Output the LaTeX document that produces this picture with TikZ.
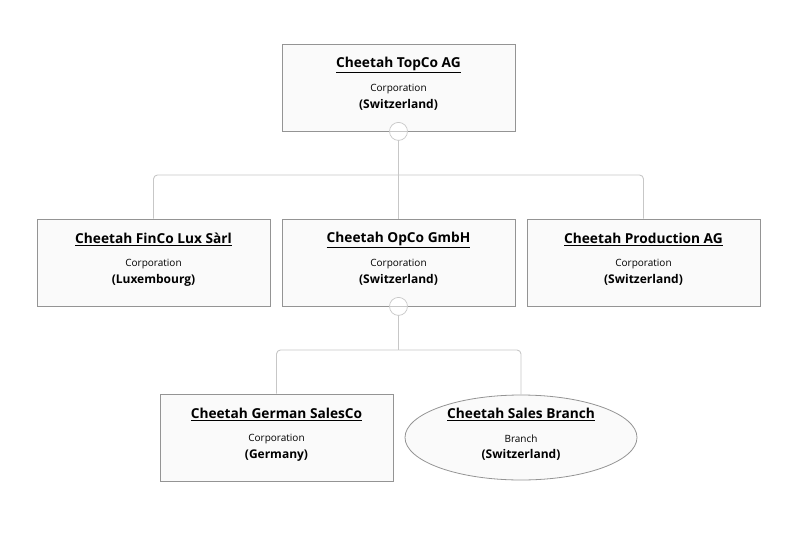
\documentclass[tikz,border=0pt]{standalone}
\usepackage{fontspec}
\setmainfont{Open Sans}
\usetikzlibrary{shapes.geometric}
\begin{document}
\begin{tikzpicture}[x=1pt, y=-1pt,
  entity/.style={draw=black!42, fill=black!2, line width=0.8pt,
    minimum width=233pt, minimum height=87pt, inner sep=0pt},
  branch/.style={ellipse, draw=black!42, fill=black!2, line width=0.8pt,
    minimum width=232pt, minimum height=85pt, inner sep=0pt},
  etitle/.style={inner sep=0pt, font=\fontsize{13.7}{15}\selectfont\bfseries},
  etype/.style={inner sep=0pt, font=\fontsize{10}{12}\selectfont},
  ecountry/.style={inner sep=0pt, font=\fontsize{12}{14}\selectfont\bfseries},
  link/.style={draw=black!22, line width=0.9pt, rounded corners=4pt},
  toggle/.style={circle, draw=black!22, fill=white, line width=0.7pt,
    minimum size=18pt, inner sep=0pt}]
\useasboundingbox (0,0) rectangle (811,546);
% entities
\node[entity] (topco) at (398.5,87.5) {};
\node[entity] (finco) at (153.5,262.5) {};
\node[entity] (opco)  at (398.5,262.5) {};
\node[entity] (prod)  at (643.5,262.5) {};
\node[entity] (sales) at (276.5,437.5) {};
\node[branch] (brnch) at (521,437.5) {};
% texts
\node[etitle]   (topco-t) at ([yshift=-21pt]topco.north) {\underline{Cheetah TopCo AG}};
\node[etype]    (topco-k) at ([yshift=-45.5pt]topco.north) {Corporation};
\node[ecountry] (topco-c) at ([yshift=-61.5pt]topco.north) {(Switzerland)};
\node[etitle]   (finco-t) at ([yshift=-21pt]finco.north) {\underline{Cheetah FinCo Lux Sàrl}};
\node[etype]    (finco-k) at ([yshift=-45.5pt]finco.north) {Corporation};
\node[ecountry] (finco-c) at ([yshift=-61.5pt]finco.north) {(Luxembourg)};
\node[etitle]   (opco-t)  at ([yshift=-21pt]opco.north)  {\underline{Cheetah OpCo GmbH}};
\node[etype]    (opco-k)  at ([yshift=-45.5pt]opco.north)  {Corporation};
\node[ecountry] (opco-c)  at ([yshift=-61.5pt]opco.north)  {(Switzerland)};
\node[etitle]   (prod-t)  at ([yshift=-21pt]prod.north)  {\underline{Cheetah Production AG}};
\node[etype]    (prod-k)  at ([yshift=-45.5pt]prod.north)  {Corporation};
\node[ecountry] (prod-c)  at ([yshift=-61.5pt]prod.north)  {(Switzerland)};
\node[etitle]   (sales-t) at ([yshift=-21pt]sales.north) {\underline{Cheetah German SalesCo}};
\node[etype]    (sales-k) at ([yshift=-45.5pt]sales.north) {Corporation};
\node[ecountry] (sales-c) at ([yshift=-61.5pt]sales.north) {(Germany)};
\node[etitle]   (brnch-t) at ([yshift=-20pt]brnch.north) {\underline{Cheetah Sales Branch}};
\node[etype]    (brnch-k) at ([yshift=-44.5pt]brnch.north) {Branch};
\node[ecountry] (brnch-c) at ([yshift=-60.5pt]brnch.north) {(Switzerland)};
% links
\coordinate (bus1) at (398.5,175);
\coordinate (bus2) at (398.5,350);
\draw[link] (topco.south) -- (bus1);
\draw[link] (bus1) -| (finco.north);
\draw[link] (bus1) -| (prod.north);
\draw[link] (bus1) -- (opco.north);
\draw[link] (opco.south) -- (bus2);
\draw[link] (bus2) -| (sales.north);
\draw[link] (bus2) -| (brnch.north);
% collapse toggles
\node[toggle] (tog1) at (topco.south) {};
\node[toggle] (tog2) at (opco.south) {};
\draw[black!22, line width=0.7pt] (tog1.west) -- (tog1.east);
\draw[black!22, line width=0.7pt] (tog2.west) -- (tog2.east);
\end{tikzpicture}
\end{document}
